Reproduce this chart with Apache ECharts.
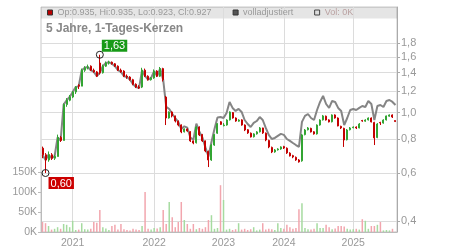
<!DOCTYPE html>
<html><head><meta charset="utf-8">
<script src="https://cdn.jsdelivr.net/npm/echarts@6/dist/echarts.min.js"></script>
<style>html,body{margin:0;padding:0;background:#fff}#c{width:450px;height:250px}</style>
</head><body><div id="c"></div>
<script>
// [open, close, low, high]
const candles = [
[0.74,0.70,0.68,0.75],[0.70,0.67,0.60,0.71],[0.67,0.70,0.66,0.72],[0.70,0.68,0.67,0.71],[0.68,0.69,0.67,0.70],
[0.69,0.81,0.69,0.83],[0.81,0.79,0.78,0.82],[0.79,1.07,0.79,1.08],[1.07,1.11,1.05,1.13],[1.11,1.14,1.10,1.16],
[1.14,1.19,1.13,1.20],[1.19,1.24,1.17,1.25],[1.26,1.25,1.22,1.27],[1.25,1.43,1.25,1.45],[1.43,1.46,1.41,1.48],
[1.46,1.47,1.44,1.50],[1.48,1.43,1.42,1.49],[1.43,1.41,1.40,1.45],[1.41,1.36,1.35,1.42],[1.52,1.40,1.38,1.63],
[1.40,1.48,1.39,1.50],[1.48,1.52,1.47,1.54],[1.52,1.53,1.50,1.55],[1.53,1.51,1.50,1.54],[1.51,1.48,1.47,1.52],
[1.48,1.43,1.42,1.49],[1.43,1.41,1.40,1.45],[1.42,1.36,1.35,1.43],[1.36,1.35,1.33,1.38],[1.35,1.32,1.31,1.36],
[1.32,1.27,1.26,1.33],[1.27,1.24,1.23,1.28],[1.24,1.23,1.22,1.26],[1.24,1.43,1.23,1.46],[1.43,1.36,1.35,1.45],
[1.36,1.32,1.31,1.37],[1.32,1.34,1.31,1.35],[1.34,1.42,1.33,1.44],[1.42,1.36,1.35,1.43],[1.36,1.45,1.35,1.47],
[1.45,1.32,1.30,1.46],[1.14,0.955,0.90,1.15],[0.955,1.005,0.95,1.01],[1.005,0.972,0.96,1.01],[0.97,0.931,0.92,0.975],
[0.93,0.90,0.89,0.935],[0.90,0.849,0.84,0.905],[0.85,0.871,0.845,0.875],[0.87,0.856,0.85,0.875],[0.85,0.787,0.78,0.855],
[0.787,0.773,0.765,0.79],[0.775,0.885,0.77,0.89],[0.885,0.828,0.82,0.89],[0.83,0.787,0.78,0.835],[0.787,0.723,0.715,0.79],
[0.72,0.67,0.631,0.725],[0.67,0.76,0.665,0.765],[0.76,0.83,0.755,0.835],[0.84,0.91,0.835,0.915],[0.925,0.905,0.90,0.93],
[0.895,0.90,0.89,0.915],[0.90,0.939,0.895,0.945],[0.94,1.005,0.935,1.01],[1.0,0.955,0.95,1.005],[0.955,0.931,0.925,0.96],
[0.93,0.939,0.925,0.945],[0.94,0.90,0.895,0.945],[0.90,0.863,0.855,0.905],[0.865,0.842,0.835,0.87],[0.84,0.814,0.81,0.845],
[0.815,0.835,0.81,0.84],[0.835,0.849,0.83,0.855],[0.85,0.878,0.845,0.885],[0.878,0.842,0.835,0.88],[0.84,0.793,0.785,0.845],
[0.79,0.748,0.74,0.795],[0.745,0.717,0.71,0.75],[0.717,0.729,0.712,0.735],[0.73,0.735,0.725,0.74],[0.735,0.748,0.73,0.752],
[0.75,0.741,0.735,0.755],[0.74,0.711,0.705,0.745],[0.71,0.693,0.69,0.715],[0.695,0.687,0.68,0.70],[0.685,0.67,0.665,0.69],
[0.67,0.659,0.655,0.675],[0.665,0.828,0.66,0.835],[0.83,0.863,0.825,0.87],[0.865,0.878,0.86,0.885],[0.875,0.849,0.845,0.88],
[0.85,0.835,0.83,0.855],[0.835,0.90,0.83,0.905],[0.90,0.939,0.895,0.945],[0.94,0.972,0.935,0.98],[0.97,0.939,0.935,0.975],
[0.94,0.924,0.92,0.945],[0.925,0.98,0.92,0.985],[0.98,0.955,0.95,0.985],[0.955,0.893,0.89,0.96],[0.89,0.878,0.87,0.895],
[0.875,0.793,0.748,0.88],[0.795,0.863,0.79,0.87],[0.865,0.878,0.86,0.885],[0.88,0.885,0.875,0.89],[0.885,0.878,0.87,0.89],
[0.878,0.908,0.875,0.915],[0.935,0.931,0.925,0.94],[0.93,0.939,0.925,0.945],[0.94,0.955,0.935,0.96],[0.955,0.924,0.92,0.96],
[0.92,0.807,0.76,0.925],[0.81,0.908,0.805,0.915],[0.92,0.916,0.90,0.925],[0.915,0.939,0.91,0.945],[0.94,0.972,0.935,0.975],
[0.97,0.98,0.965,0.985],[0.98,0.963,0.955,0.985],[0.935,0.927,0.923,0.935]
];
const adjusted = [
0.70,0.67,0.70,0.68,0.69,0.81,0.79,1.07,1.11,1.14,
1.19,1.24,1.25,1.43,1.46,1.47,1.43,1.41,1.36,1.40,
1.48,1.52,1.53,1.51,1.48,1.43,1.41,1.36,1.35,1.32,
1.27,1.24,1.23,1.43,1.36,1.32,1.34,1.42,1.36,1.45,
1.32,1.05,1.03,0.99,0.955,0.925,0.87,0.89,0.88,0.81,
0.795,0.91,0.85,0.81,0.745,0.69,0.78,0.87,0.96,0.963,
0.955,0.997,1.094,1.04,1.014,1.031,1.005,0.939,0.908,0.885,
0.916,0.931,0.963,0.939,0.878,0.828,0.80,0.807,0.821,0.835,
0.828,0.80,0.787,0.773,0.76,0.748,0.924,0.972,0.988,0.955,
0.939,1.022,1.094,1.151,1.075,1.04,1.103,1.094,1.04,1.014,
0.90,0.955,1.022,1.031,1.022,1.04,1.057,1.048,1.103,1.075,
0.939,1.057,1.066,1.048,1.103,1.112,1.094,1.066
];
const volumeK = [
25,22,15,6,8,12,8,20,18,12,
28,5,6,22,7,6,8,25,23,55,
12,9,5,15,18,6,20,7,5,4,
8,6,5,15,100,8,6,10,9,12,
55,20,75,37,12,25,75,30,20,8,
20,7,10,8,12,30,42,8,10,117,
80,6,8,5,7,22,6,8,5,7,
12,4,6,22,6,8,7,5,22,10,
8,18,12,8,10,57,72,10,7,6,
8,22,10,10,18,12,7,9,15,15,
14,8,6,7,8,6,32,28,8,15,
15,18,25,4,5,4,8,0.4
];
const yearLabels = ['2021','2022','2023','2024','2025'];
const yearStartIndex = [10,37,60,80,103];
const priceTicks = [0.4,0.6,0.8,1.0,1.2,1.4,1.6,1.8];

const categories = candles.map((c, i) => {
  let y = '2020';
  yearStartIndex.forEach((s, k) => { if (i >= s) y = yearLabels[k]; });
  return y + '#' + i;
});
const isYearStart = i => yearStartIndex.indexOf(i) >= 0;
const comma = (v, d) => v.toFixed(d).replace('.', ',');
const last = candles[candles.length - 1];
const FONT = 'Arial, "Liberation Sans", sans-serif';
const UP = '#33a533', DOWN = '#c40000';

const chart = echarts.init(document.getElementById('c'), null, {renderer: 'canvas'});
chart.setOption({
  animation: false,
  textStyle: {fontFamily: FONT},
  title: {text: '5 Jahre, 1-Tages-Kerzen', left: 46, top: 23, padding: 0,
    textStyle: {fontSize: 12, fontWeight: 'bold', color: '#888', fontFamily: FONT}},
  graphic: [{type: 'rect', silent: true, z: 0, shape: {x: 41, y: 7, width: 356, height: 11.5},
    style: {fill: 'rgba(0,0,0,0.1)'}}],
  legend: {
    left: 47, top: 8, padding: 0, itemGap: 21, itemWidth: 5, itemHeight: 5, selectedMode: false,
    textStyle: {fontSize: 9, color: '#999', fontFamily: FONT},
    data: [
      {name: 'Kurs', icon: 'rect', itemStyle: {color: '#b00', borderColor: '#333', borderWidth: 1}},
      {name: 'volladjustiert', icon: 'rect', itemStyle: {color: '#555', borderColor: '#333', borderWidth: 1}},
      {name: 'Vol', icon: 'rect', itemStyle: {color: '#ddd', borderColor: '#444', borderWidth: 1}, textStyle: {color: '#b9a0a0'}}
    ],
    formatter: n => n === 'Kurs'
      ? 'Op:' + last[0].toFixed(3) + ', Hi:' + last[3].toFixed(3) + ', Lo:' + last[2].toFixed(3) + ', Cl:' + last[1].toFixed(3)
      : n === 'Vol' ? 'Vol: ' + Math.round(volumeK[volumeK.length - 1]) + 'K' : n
  },
  grid: [
    {left: 41, right: 53, top: 7, bottom: 18, show: true, borderColor: '#c8c8c8', borderWidth: 1, backgroundColor: 'transparent'},
    {left: 41, right: 53, top: 172, bottom: 18}
  ],
  xAxis: [
    {type: 'category', gridIndex: 0, data: categories, boundaryGap: true,
      axisLine: {show: false}, axisTick: {show: false}, axisLabel: {show: false},
      splitLine: {show: true, interval: (i) => isYearStart(i), alignWithLabel: true, lineStyle: {color: '#dcdcdc'}}},
    {type: 'category', gridIndex: 1, data: categories, boundaryGap: true,
      axisLine: {show: true, lineStyle: {color: '#bbb'}}, axisTick: {show: false},
      axisLabel: {show: true, interval: (i) => isYearStart(i), formatter: v => v.slice(0, 4), color: '#999', fontSize: 10.5, margin: 6},
      splitLine: {show: false}}
  ],
  yAxis: [
    {type: 'log', gridIndex: 0, position: 'right', logBase: 10, min: 0.3645, max: 2.44,
      axisLine: {show: true, lineStyle: {color: '#aaa'}},
      axisTick: {show: true, length: 3, customValues: priceTicks, lineStyle: {color: '#aaa'}},
      axisLabel: {customValues: priceTicks, formatter: v => comma(v, 1), color: '#999', fontSize: 11, margin: 4},
      splitLine: {show: true, lineStyle: {color: '#dcdcdc'}}},
    {type: 'value', gridIndex: 1, position: 'left', min: 0, max: 150, interval: 50,
      axisLine: {show: true, lineStyle: {color: '#bbb'}},
      axisTick: {show: true, length: 3, lineStyle: {color: '#bbb'}},
      axisLabel: {formatter: v => v + 'K', color: '#999', fontSize: 10.5, margin: 4},
      splitLine: {show: false}}
  ],
  series: [
    {name: 'volladjustiert', type: 'line', xAxisIndex: 0, yAxisIndex: 0, data: adjusted,
      showSymbol: false, symbol: 'none', lineStyle: {color: '#858585', width: 2}, itemStyle: {color: '#858585'}, z: 1},
    {name: 'Kurs', type: 'candlestick', xAxisIndex: 0, yAxisIndex: 0, data: candles, barWidth: 1.5, z: 2,
      itemStyle: {color: UP, color0: DOWN, borderColor: UP, borderColor0: DOWN, borderWidth: 1},
      markPoint: {
        symbol: 'circle', symbolSize: 7,
        itemStyle: {color: 'rgba(255,255,255,0)', borderColor: '#222', borderWidth: 1},
        label: {show: true, color: '#fff', fontSize: 11, padding: [1, 2, 0, 2], fontFamily: FONT,
          formatter: p => comma(p.value, 2)},
        data: [
          {type: 'max', valueDim: 'highest', label: {position: [6, -11], backgroundColor: '#179a17'}},
          {type: 'min', valueDim: 'lowest', label: {position: [7, 8], backgroundColor: '#cc0000'}}
        ]
      }},
    {name: 'Vol', type: 'bar', xAxisIndex: 1, yAxisIndex: 1, data: volumeK, barWidth: 1.5,
      itemStyle: {color: p => candles[p.dataIndex][1] >= candles[p.dataIndex][0] ? '#a6dba0' : '#f2a6ae'}}
  ]
});
</script></body></html>
